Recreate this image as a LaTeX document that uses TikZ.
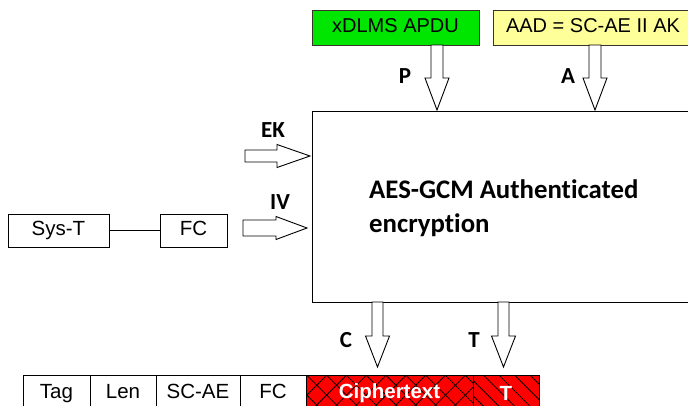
\documentclass[tikz,border=0pt]{standalone}
\usepackage{fontspec}
\setmainfont{Liberation Sans}
\newfontfamily\calfont[Ligatures=NoCommon]{Carlito}
\usetikzlibrary{patterns.meta}
\definecolor{boxgreen}{RGB}{0,230,0}
\definecolor{boxyellow}{RGB}{255,255,153}
\definecolor{cellred}{RGB}{255,0,0}
\tikzset{
  blk/.style={draw=black, fill=white, line width=0.9pt, line join=miter},
  cellbox/.style={draw=black, line width=0.9pt, minimum height=36pt, inner sep=0pt, text height=14.5pt, text depth=4pt, font=\fontsize{20.5}{24}\selectfont},
  topbox/.style={draw=black!80!olive, line width=0.9pt, minimum height=35pt, inner sep=0pt, text height=14.5pt, text depth=4pt, font=\fontsize{20}{24}\selectfont},
  lbl/.style={font=\calfont\bfseries\fontsize{23}{26}\selectfont, inner sep=0pt},
  whitetext/.style={text=white, inner sep=0pt, font=\bfseries\fontsize{20.5}{24}\selectfont},
  pics/vdown/.style n args={4}{code={
    \draw[blk] (-#1,0) -- (-#1,#3) -- (-#2,#3) -- (0,#4) -- (#2,#3) -- (#1,#3) -- (#1,0) -- cycle;}},
  pics/hright/.style n args={4}{code={
    \draw[blk] (0,-#1) -- (#3,-#1) -- (#3,-#2) -- (#4,0) -- (#3,#2) -- (#3,#1) -- (0,#1) -- cycle;}}
}
\begin{document}
\begin{tikzpicture}[x=1pt,y=-1pt]
\useasboundingbox (0,0) rectangle (688,405);
\clip (0,0) rectangle (688,405);
\fill[white] (0,0) rectangle (688,405);

% main box
\node[draw=black, line width=0.9pt, minimum width=388pt, minimum height=191pt, inner sep=0pt] (main) at (506,206.5) {};
\node[anchor=west, align=left, inner sep=0pt, font=\calfont\bfseries\fontsize{26.8}{34}\selectfont] (maintext) at (369,208) {AES-GCM Authenticated\\encryption};

% top boxes
\node[topbox, fill=boxgreen, minimum width=167pt] (xd) at (395.5,27.5) {xDLMS APDU};
\node[topbox, fill=boxyellow, minimum width=200pt] (aad) at (593,27.5) {AAD = SC-AE II AK};

% top arrows
\pic at (437,45) {vdown={6}{12}{33}{65}};
\pic at (595,45) {vdown={6}{12}{33}{65}};
\node[lbl] (lp) at (405,76) {P};
\node[lbl] (la) at (568,76) {A};

% left arrows
\pic at (245,156) {hright={6}{11.5}{32}{65}};
\pic at (243,228) {hright={8}{11.5}{33}{64}};
\node[lbl] (lek) at (273,130) {EK};
\node[lbl] (liv) at (280,202) {IV};

% Sys-T and FC
\node[cellbox, minimum width=101pt, minimum height=33pt] (sys) at (58.5,230.5) {Sys-T};
\node[cellbox, minimum width=67pt, minimum height=33pt] (fc1) at (193.5,230.5) {FC};
\draw[line width=0.9pt] (sys) -- (fc1);

% bottom arrows
\pic at (377.5,302) {vdown={5.5}{12}{34}{65}};
\pic at (503.5,302) {vdown={5.5}{12}{34}{65}};
\node[lbl] (lc) at (346,340) {C};
\node[lbl] (lt) at (474,340) {T};

% bottom row
\node[cellbox, minimum width=67pt] (tag) at (56.5,393) {Tag};
\node[cellbox, minimum width=66pt] (len) at (123,393) {Len};
\node[cellbox, minimum width=84pt] (scae) at (198,393) {SC-AE};
\node[cellbox, minimum width=66pt] (fc2) at (273,393) {FC};
\node[cellbox, fill=cellred, minimum width=167pt,
  postaction={pattern={Hatch[angle=45,distance=14pt,line width=0.8pt]}, pattern color=black}] (ct) at (389.5,393) {};
\node[whitetext] (ctt) at (ct) {Ciphertext};
\node[cellbox, fill=cellred, minimum width=66pt,
  postaction={pattern={Lines[angle=-45,distance=11pt,line width=0.8pt]}, pattern color=black}] (tt) at (506,393) {};
\node[whitetext] (ttt) at (tt) {T};
\end{tikzpicture}
\end{document}
